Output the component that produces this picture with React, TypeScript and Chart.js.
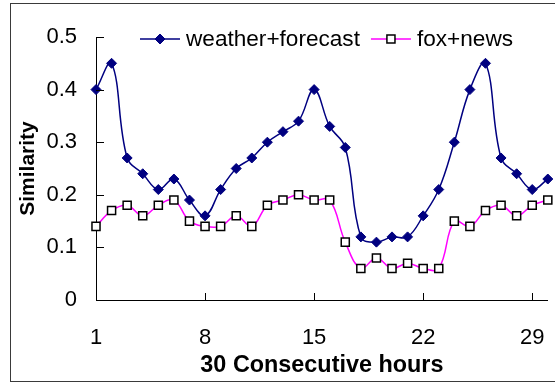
import React, { useEffect, useRef } from 'react';
import { Chart, registerables } from 'chart.js';

Chart.register(...registerables);

const hours = [1, 2, 3, 4, 5, 6, 7, 8, 9, 10, 11, 12, 13, 14, 15, 16, 17, 18, 19, 20, 21, 22, 23, 24, 25, 26, 27, 28, 29, 30];
const weatherForecast = [0.40, 0.45, 0.27, 0.24, 0.21, 0.23, 0.19, 0.16, 0.21, 0.25, 0.27, 0.30, 0.32, 0.34, 0.40, 0.33, 0.29, 0.12, 0.11, 0.12, 0.12, 0.16, 0.21, 0.30, 0.40, 0.45, 0.27, 0.24, 0.21, 0.23];
const foxNews = [0.14, 0.17, 0.18, 0.16, 0.18, 0.19, 0.15, 0.14, 0.14, 0.16, 0.14, 0.18, 0.19, 0.20, 0.19, 0.19, 0.11, 0.06, 0.08, 0.06, 0.07, 0.06, 0.06, 0.15, 0.14, 0.17, 0.18, 0.16, 0.18, 0.19];
const xTickValues = [1, 8, 15, 22, 29];
const yTickValues = [0, 0.1, 0.2, 0.3, 0.4, 0.5];
const seriesNames = ['weather+forecast', 'fox+news'];

const FONT = '"Liberation Sans", Arial, sans-serif';
const NAVY = '#000080';
const MAGENTA = '#FF00FF';

const insideTicksAndLegend = {
  id: 'insideTicksAndLegend',
  afterDraw(chart: any) {
    const ctx = chart.ctx as CanvasRenderingContext2D;
    const area = chart.chartArea;
    const xs = chart.scales.x;
    const ys = chart.scales.y;
    ctx.save();
    ctx.strokeStyle = '#000';
    ctx.lineWidth = 1;
    ctx.beginPath();
    xs.ticks.forEach((t: any) => {
      const px = Math.round(xs.getPixelForValue(t.value)) + 0.5;
      ctx.moveTo(px, area.bottom);
      ctx.lineTo(px, area.bottom - 7);
    });
    ys.ticks.forEach((t: any) => {
      const py = Math.round(ys.getPixelForValue(t.value)) + 0.5;
      ctx.moveTo(area.left, py);
      ctx.lineTo(area.left + 8, py);
    });
    ctx.stroke();

    // legend
    const ly = area.top + 2;
    let x = area.left + 44;
    ctx.font = `22.6px ${FONT}`;
    ctx.textBaseline = 'middle';
    ctx.textAlign = 'left';
    chart.data.datasets.forEach((ds: any) => {
      ctx.strokeStyle = ds.borderColor;
      ctx.lineWidth = ds.borderWidth;
      ctx.beginPath();
      ctx.moveTo(x, ly);
      ctx.lineTo(x + 40, ly);
      ctx.stroke();
      const cx = x + 20;
      ctx.beginPath();
      if (ds.pointStyle === 'rectRot') {
        const r = ds.pointRadius;
        ctx.moveTo(cx, ly - r);
        ctx.lineTo(cx + r, ly);
        ctx.lineTo(cx, ly + r);
        ctx.lineTo(cx - r, ly);
        ctx.closePath();
      } else {
        const s = ds.pointRadius * Math.SQRT1_2;
        ctx.rect(cx - s, ly - s, 2 * s, 2 * s);
      }
      ctx.fillStyle = ds.pointBackgroundColor;
      ctx.fill();
      ctx.strokeStyle = ds.pointBorderColor;
      ctx.lineWidth = ds.pointBorderWidth;
      ctx.stroke();
      ctx.fillStyle = '#000';
      ctx.fillText(ds.label, x + 46, ly + 1);
      x += 46 + ctx.measureText(ds.label).width + 11;
    });
    ctx.restore();
  },
};

export default function App() {
  const ref = useRef<HTMLCanvasElement | null>(null);
  useEffect(() => {
    if (!ref.current) return;
    const chart = new Chart(ref.current, {
      type: 'line',
      data: {
        datasets: [
          {
            label: seriesNames[0],
            data: hours.map((h, i) => ({ x: h, y: weatherForecast[i] })),
            borderColor: NAVY,
            borderWidth: 1.5,
            pointStyle: 'rectRot',
            pointRadius: 5,
            pointBackgroundColor: NAVY,
            pointBorderColor: NAVY,
            pointBorderWidth: 1,
            tension: 0.4,
            clip: false,
          },
          {
            label: seriesNames[1],
            data: hours.map((h, i) => ({ x: h, y: foxNews[i] })),
            borderColor: MAGENTA,
            borderWidth: 1.5,
            pointStyle: 'rect',
            pointRadius: 5.7,
            pointBackgroundColor: '#FFFFFF',
            pointBorderColor: '#000000',
            pointBorderWidth: 1.5,
            tension: 0.4,
            clip: false,
          },
        ],
      } as any,
      options: {
        responsive: false,
        animation: false,
        devicePixelRatio: 1,
        layout: { padding: { top: 37, right: 7, left: 0, bottom: 0 } },
        plugins: {
          legend: { display: false },
          tooltip: { enabled: false },
        },
        scales: {
          x: {
            type: 'linear',
            min: 1,
            max: 30,
            afterBuildTicks: (s: any) => {
              s.ticks = xTickValues.map((v) => ({ value: v }));
            },
            afterFit: (s: any) => {
              s.height = 83;
              s.paddingLeft = 0;
              s.paddingRight = 0;
            },
            grid: { display: false, drawTicks: false },
            border: { display: true, color: '#000', width: 1 },
            ticks: {
              color: '#000',
              font: { family: FONT, size: 22 },
              padding: 25,
              maxRotation: 0,
              callback: (v: any) => String(v),
            },
            title: {
              display: true,
              text: '30 Consecutive hours',
              color: '#000',
              font: { family: FONT, size: 23.4, weight: 'bold' },
              padding: { top: 0, bottom: 3 },
            },
          },
          y: {
            type: 'linear',
            min: 0,
            max: 0.5,
            afterBuildTicks: (s: any) => {
              s.ticks = yTickValues.map((v) => ({ value: v }));
            },
            afterFit: (s: any) => {
              s.width = 96;
              s.paddingTop = 0;
              s.paddingBottom = 0;
            },
            grid: { display: false, drawTicks: false },
            border: { display: true, color: '#000', width: 1 },
            ticks: {
              color: '#000',
              font: { family: FONT, size: 22 },
              padding: 19,
              callback: (v: any) => (v === 0 ? '0' : Number(v).toFixed(1)),
            },
            title: {
              display: true,
              text: 'Similarity',
              color: '#000',
              font: { family: FONT, size: 21, weight: 'bold' },
              padding: { top: 16, bottom: 0 },
            },
          },
        },
      } as any,
      plugins: [insideTicksAndLegend],
    });
    return () => chart.destroy();
  }, []);

  return (
    <div style={{ position: 'fixed', left: 0, top: 0, width: 555, height: 383, overflow: 'hidden', background: '#fff' }}>
      <div style={{ position: 'absolute', left: 10, top: 3, width: 600, height: 377, border: '1px solid #3a3a3a' }} />
      <canvas ref={ref} width={555} height={383} style={{ position: 'absolute', left: 0, top: 0 }} />
    </div>
  );
}
